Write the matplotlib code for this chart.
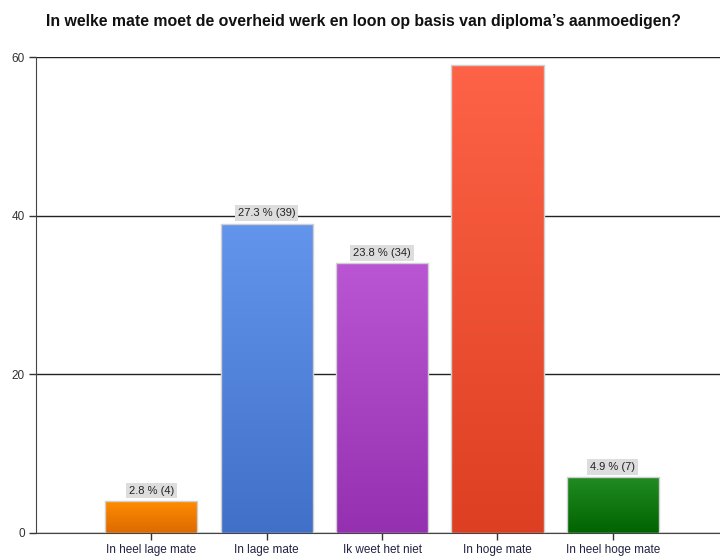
import matplotlib.pyplot as plt
import numpy as np
from matplotlib.colors import LinearSegmentedColormap

plt.rcParams["font.family"] = ["Liberation Sans", "DejaVu Sans"]

# survey answers and counts
categories = ["In heel lage mate", "In lage mate", "Ik weet het niet",
              "In hoge mate", "In heel hoge mate"]
counts = [4, 39, 34, 59, 7]
# (top, bottom) colour of each bar's gradient
top_colors = ["#FF8C00", "#6495ED", "#BA55D3", "#FF6347", "#228B22"]
bottom_colors = ["#DC6A00", "#4070C8", "#9530B0", "#DC3F22", "#006400"]

total = sum(counts)
pcts = [100 * c / total for c in counts]

fig = plt.figure(figsize=(7.2, 5.56), dpi=100)
ax = fig.add_axes([0.05, 0.0414, 0.95, 0.856])

x = np.arange(len(categories))
bars = ax.bar(x, counts, width=0.8, color="none", edgecolor="#D0D0D0",
              linewidth=1.0, zorder=3)

# vertical gradient fill clipped to each bar
grad = np.linspace(1, 0, 256).reshape(-1, 1)
for b, c_top, c_bot in zip(bars, top_colors, bottom_colors):
    cmap = LinearSegmentedColormap.from_list("g", [c_bot, c_top])
    x0, w, h = b.get_x(), b.get_width(), b.get_height()
    im = ax.imshow(grad, cmap=cmap, aspect="auto", extent=(x0, x0 + w, 0, h),
                   origin="upper", zorder=2, interpolation="bilinear")
    im.set_clip_path(b)

ax.set_xlim(-1, 4.93)
ax.set_ylim(0, 60)
ax.set_yticks([0, 20, 40, 60])
ax.yaxis.grid(True, color="#222222", linewidth=1.0, zorder=1)
ax.set_axisbelow(True)
ax.set_xticks(x)
ax.set_xticklabels(categories)
ax.tick_params(axis="both", labelsize=8.5, colors="#333333", length=5,
               width=1, pad=3)
ax.tick_params(axis="x", labelcolor="#222244")

for side in ("top", "right"):
    ax.spines[side].set_visible(False)
ax.spines["left"].set_color("#444444")
ax.spines["bottom"].set_color("#444444")

# value labels above the bars (only where they fit inside the plot)
for xi, c, p in zip(x, counts, pcts):
    if c + 4 > 60:
        continue
    ax.text(xi, c + 0.7, f"{p:.1f} % ({c})", ha="center", va="bottom",
            fontsize=8, color="#222222", zorder=4,
            bbox=dict(boxstyle="square,pad=0.25", fc="#DDDDDD", ec="none"))

fig.suptitle("In welke mate moet de overheid werk en loon op basis van diploma\u2019s aanmoedigen?",
             x=0.505, y=0.975, fontsize=11.45, fontweight="bold", color="#111111")

fig.savefig("out.png", dpi=100)
